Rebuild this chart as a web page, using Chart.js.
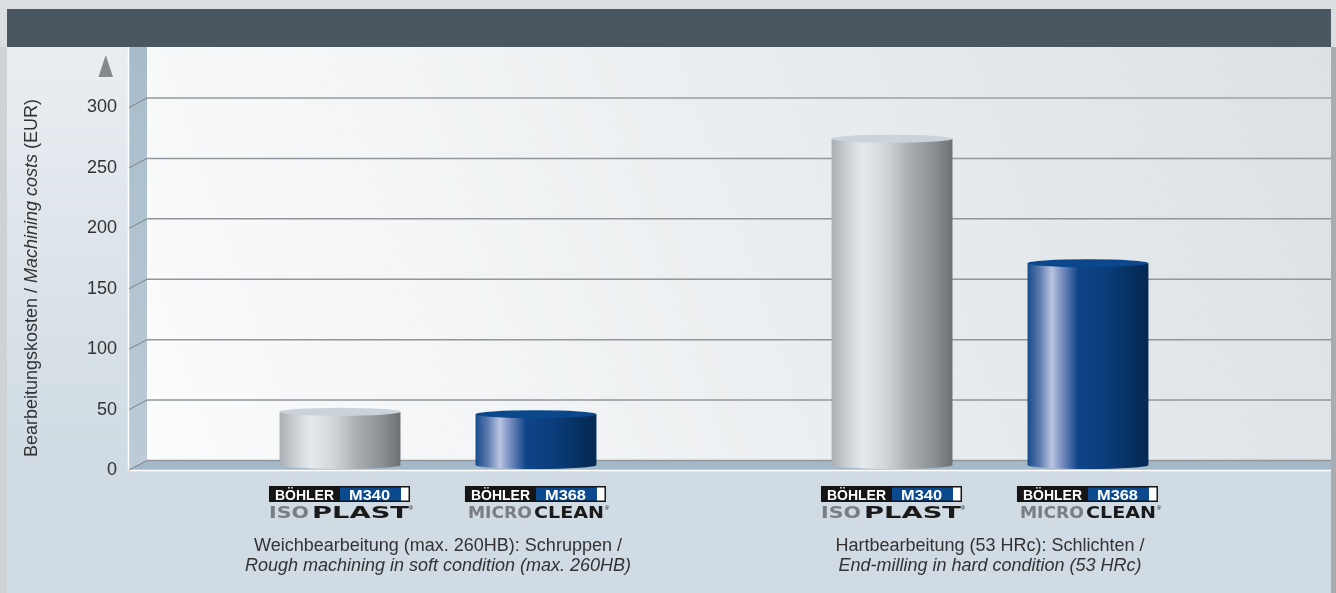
<!DOCTYPE html>
<html>
<head>
<meta charset="utf-8">
<title>Bearbeitungskosten</title>
<script src="https://cdn.jsdelivr.net/npm/chart.js@4.4.1/dist/chart.umd.min.js"></script>
<style>
	html, body { margin: 0; padding: 0; background: #d9dee1; overflow: hidden; }
	canvas { display: block; }
</style>
</head>
<body>
<canvas id="chart" width="1336" height="593"></canvas>
<script>
// data
const categories = [
	['Weichbearbeitung (max. 260HB): Schruppen /', 'Rough machining in soft condition (max. 260HB)'],
	['Hartbearbeitung (53 HRc): Schlichten /', 'End-milling in hard condition (53 HRc)']
];
const steelNames = ['M340', 'M368'];
const steelBrands = [['ISO', 'PLAST'], ['MICRO', 'CLEAN']];
const m340Costs = [44, 270];
const m368Costs = [42, 167];
const yTicks = [0, 50, 100, 150, 200, 250, 300];
const yTitle = ['Bearbeitungskosten / ', 'Machining costs', ' (EUR)'];

// 3d look
const WALL_L = 129, WALL_R = 147, PLOT_R = 1331;
const BACK = -4.5, FRONT = 5;
const FONT = '"Liberation Sans", Arial, sans-serif';

function fitText(ctx, text, x, y, width) {
	const w = ctx.measureText(text).width;
	ctx.save();
	ctx.translate(x, y);
	ctx.scale(width / w, 1);
	ctx.textAlign = 'left';
	ctx.fillText(text, 0, 0);
	ctx.restore();
}

function drawLogo(ctx, c, s) {
	const top = 486;
	ctx.fillStyle = '#151515';
	ctx.fillRect(c - 71, top, 71, 16);
	ctx.fillStyle = '#0b4a8e';
	ctx.fillRect(c, top, 61, 16);
	ctx.fillStyle = '#fff';
	ctx.fillRect(c + 61, top, 9, 16);
	ctx.strokeStyle = '#151515';
	ctx.lineWidth = 1.5;
	ctx.strokeRect(c - 70.25, top + 0.75, 139.5, 14.5);

	ctx.textBaseline = 'alphabetic';
	ctx.fillStyle = '#fff';
	ctx.font = 'bold 15px "Liberation Sans Narrow", ' + FONT;
	fitText(ctx, 'BÖHLER', c - 65, top + 13.5, 59);
	fitText(ctx, steelNames[s], c + 9, top + 13.5, 41);

	const [a, b] = steelBrands[s];
	ctx.font = 'bold 15px "DejaVu Sans", sans-serif';
	ctx.fillStyle = '#7a7e81';
	if (s === 0) fitText(ctx, a, c - 71, 518, 40);
	else fitText(ctx, a, c - 68, 518, 64);
	ctx.fillStyle = '#1a1a1a';
	if (s === 0) fitText(ctx, b, c - 28, 518, 97);
	else fitText(ctx, b, c - 2, 518, 70);
	ctx.font = '6px ' + FONT;
	ctx.fillText('®', c + 71, 510);
}

function drawCylinder(ctx, x, w, top, base, s) {
	const l = x - w / 2, r = x + w / 2, ry = 4;
	const g = ctx.createLinearGradient(l, 0, r, 0);
	if (s === 0) {
		g.addColorStop(0, '#a9aeb3');
		g.addColorStop(0.12, '#c9ced2');
		g.addColorStop(0.26, '#e4e9ec');
		g.addColorStop(0.45, '#d0d5d8');
		g.addColorStop(0.65, '#a8adb0');
		g.addColorStop(0.85, '#8b9093');
		g.addColorStop(1, '#6c7073');
	} else {
		g.addColorStop(0, '#154c8c');
		g.addColorStop(0.1, '#5d79ae');
		g.addColorStop(0.2, '#b9c5e1');
		g.addColorStop(0.3, '#6c84ba');
		g.addColorStop(0.42, '#0e4487');
		g.addColorStop(0.65, '#0b3d7c');
		g.addColorStop(0.85, '#06305f');
		g.addColorStop(1, '#042953');
	}
	ctx.beginPath();
	ctx.moveTo(l, top);
	ctx.lineTo(l, base);
	ctx.ellipse(x, base, w / 2, ry, 0, Math.PI, 0, true);
	ctx.lineTo(r, top);
	ctx.closePath();
	ctx.fillStyle = g;
	ctx.fill();
	ctx.beginPath();
	ctx.ellipse(x, top, w / 2, ry, 0, 0, Math.PI * 2);
	ctx.fillStyle = s === 0 ? '#c9d3d9' : '#0a488b';
	ctx.fill();
}

const scenery = {
	id: 'scenery',
	beforeDraw(chart) {
		const ctx = chart.ctx;
		const y = chart.scales.y, x = chart.scales.x;
		const floorBack = y.getPixelForValue(0) + BACK;
		const floorFront = y.getPixelForValue(0) + FRONT;
		ctx.save();
		// page + card
		ctx.fillStyle = '#d9dee1';
		ctx.fillRect(0, 0, 1336, 593);
		ctx.fillStyle = '#cdd2d5';
		ctx.fillRect(0, 47, 7, 546);
		ctx.fillStyle = '#a8acaf';
		ctx.fillRect(PLOT_R, 47, 5, 546);
		let g = ctx.createLinearGradient(0, 47, 0, 593);
		g.addColorStop(0, '#eaeef2');
		g.addColorStop(0.75, '#d0dbe3');
		g.addColorStop(1, '#d0dbe3');
		ctx.fillStyle = g;
		ctx.fillRect(7, 47, PLOT_R - 7, 546);
		ctx.fillStyle = '#4a5760';
		ctx.fillRect(7, 9, PLOT_R - 7, 38);

		// back panel
		g = ctx.createLinearGradient(WALL_R, floorBack, PLOT_R, 47);
		g.addColorStop(0, '#fbfcfc');
		g.addColorStop(1, '#dce1e5');
		ctx.fillStyle = g;
		ctx.fillRect(WALL_R, 47, PLOT_R - WALL_R, floorBack - 47);

		// side wall
		g = ctx.createLinearGradient(0, 47, 0, floorFront);
		g.addColorStop(0, '#a7bccb');
		g.addColorStop(1, '#bccbd7');
		ctx.fillStyle = g;
		ctx.beginPath();
		ctx.moveTo(WALL_L, 47);
		ctx.lineTo(WALL_R, 47);
		ctx.lineTo(WALL_R, floorBack);
		ctx.lineTo(WALL_L, floorFront);
		ctx.closePath();
		ctx.fill();

		// floor
		ctx.fillStyle = '#a3b9c9';
		ctx.beginPath();
		ctx.moveTo(WALL_L, floorFront);
		ctx.lineTo(WALL_R, floorBack);
		ctx.lineTo(PLOT_R, floorBack);
		ctx.lineTo(PLOT_R, floorFront);
		ctx.closePath();
		ctx.fill();
		ctx.strokeStyle = '#ffffff';
		ctx.lineWidth = 1.5;
		ctx.beginPath();
		ctx.moveTo(WALL_L, floorFront + 0.5);
		ctx.lineTo(PLOT_R, floorFront + 0.5);
		ctx.moveTo(WALL_L - 0.5, 47);
		ctx.lineTo(WALL_L - 0.5, floorFront);
		ctx.stroke();

		// grid lines
		for (const v of yTicks) {
			const p = y.getPixelForValue(v);
			ctx.strokeStyle = '#7c8084';
			ctx.lineWidth = 1;
			ctx.beginPath();
			ctx.moveTo(WALL_L, p + FRONT);
			ctx.lineTo(WALL_R, p + BACK);
			ctx.stroke();
			ctx.strokeStyle = v === 300 ? '#aeb2b5' : '#92969a';
			ctx.lineWidth = v === 300 ? 2 : 1.5;
			ctx.beginPath();
			ctx.moveTo(WALL_R, p + BACK);
			ctx.lineTo(PLOT_R, p + BACK);
			ctx.stroke();
		}

		// arrow
		ctx.fillStyle = '#86898c';
		ctx.beginPath();
		ctx.moveTo(98.5, 77);
		ctx.lineTo(113, 77);
		ctx.lineTo(105.75, 55);
		ctx.closePath();
		ctx.fill();

		// y title
		ctx.save();
		ctx.translate(32, 278);
		ctx.rotate(-Math.PI / 2);
		ctx.fillStyle = '#333';
		ctx.textBaseline = 'middle';
		ctx.textAlign = 'left';
		const fonts = ['18px ' + FONT, 'italic 18px ' + FONT, '18px ' + FONT];
		let total = 0;
		yTitle.forEach((t, i) => { ctx.font = fonts[i]; total += ctx.measureText(t).width; });
		let cx = -total / 2;
		yTitle.forEach((t, i) => { ctx.font = fonts[i]; ctx.fillText(t, cx, 0); cx += ctx.measureText(t).width; });
		ctx.restore();

		// category labels
		ctx.fillStyle = '#333';
		ctx.textAlign = 'center';
		ctx.textBaseline = 'middle';
		categories.forEach((lines, i) => {
			const px = x.getPixelForValue(i);
			ctx.font = '18px ' + FONT;
			ctx.fillText(lines[0], px, 546);
			ctx.font = 'italic 18px ' + FONT;
			ctx.fillText(lines[1], px, 566);
		});

		// logos under each bar
		chart.data.datasets.forEach((ds, s) => {
			chart.getDatasetMeta(s).data.forEach(bar => drawLogo(ctx, bar.x, s));
		});
		ctx.restore();
	},
	afterDatasetsDraw(chart) {
		const ctx = chart.ctx;
		ctx.save();
		chart.data.datasets.forEach((ds, s) => {
			chart.getDatasetMeta(s).data.forEach(bar => {
				drawCylinder(ctx, bar.x, bar.width, bar.y, bar.base, s);
			});
		});
		ctx.restore();
	}
};

new Chart(document.getElementById('chart'), {
	type: 'bar',
	data: {
		labels: categories,
		datasets: [
			{ label: 'BÖHLER M340 ISOPLAST', data: m340Costs, backgroundColor: 'rgba(0,0,0,0)' },
			{ label: 'BÖHLER M368 MICROCLEAN', data: m368Costs, backgroundColor: 'rgba(0,0,0,0)' }
		]
	},
	options: {
		responsive: false,
		animation: false,
		events: [],
		layout: { padding: { left: 0, right: 70, top: 102.5, bottom: 128 } },
		datasets: { bar: { categoryPercentage: 0.71, barPercentage: 0.617 } },
		plugins: { legend: { display: false }, tooltip: { enabled: false } },
		scales: {
			x: { display: false },
			y: {
				min: 0,
				max: 300,
				afterFit: (scale) => { scale.width = 162; },
				grid: { display: false, drawTicks: false },
				border: { display: false },
				ticks: {
					stepSize: 50,
					padding: 45,
					labelOffset: FRONT,
					color: '#333',
					font: { family: 'Liberation Sans', size: 18 }
				}
			}
		}
	},
	plugins: [scenery]
});
</script>
</body>
</html>
